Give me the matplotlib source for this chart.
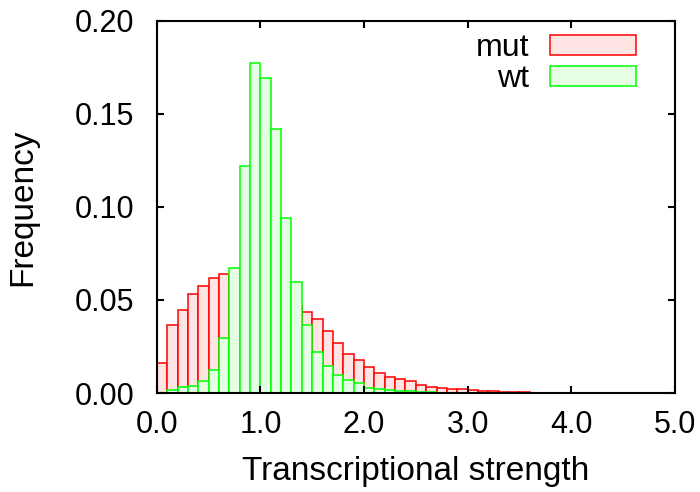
#!/usr/bin/env python3
# -*- coding=utf-8 -*-
import numpy as np
from matplotlib import pyplot as plt
plt.rcParams['font.family'] = ['Liberation Sans', 'DejaVu Sans']

# histogram, bin width 0.1 from 0.0 to 5.0
bin_edges = np.round(np.arange(0, 5.01, 0.1), 2)

mut = [0.0160, 0.0364, 0.0448, 0.0532, 0.0575, 0.0617, 0.0638, 0.0640, 0.0630, 0.0610,
       0.0580, 0.0540, 0.0500, 0.0470, 0.0437, 0.0398, 0.0331, 0.0271, 0.0210, 0.0176,
       0.0140, 0.0109, 0.0086, 0.0075, 0.0063, 0.0041, 0.0034, 0.0029, 0.0024, 0.0020,
       0.0016, 0.0011, 0.0009, 0.0007, 0.0005, 0.0004, 0.0003, 0.0002, 0.0002, 0.0001,
       0.0001, 0.0001, 0.0, 0.0, 0.0, 0.0, 0.0, 0.0, 0.0, 0.0]

wt = [0.0, 0.0018, 0.0032, 0.0039, 0.0063, 0.0125, 0.0294, 0.0670, 0.1220, 0.1773,
      0.1694, 0.1418, 0.0943, 0.0596, 0.0366, 0.0220, 0.0144, 0.0097, 0.0072, 0.0054,
      0.0029, 0.0023, 0.0018, 0.0013, 0.0009, 0.0006, 0.0004, 0.0003, 0.0002, 0.0001,
      0.0, 0.0, 0.0, 0.0, 0.0, 0.0, 0.0, 0.0, 0.0, 0.0,
      0.0, 0.0, 0.0, 0.0, 0.0, 0.0, 0.0, 0.0, 0.0, 0.0]

x_ticks = [0.0, 1.0, 2.0, 3.0, 4.0, 5.0]
y_ticks = [0.00, 0.05, 0.10, 0.15, 0.20]

fig = plt.figure(figsize=(7, 4.92), dpi=100)
ax = fig.add_axes([0.224, 0.201, 0.740, 0.757])

left = bin_edges[:-1]
width = 0.1
ax.bar(left, mut, width=width, align='edge', color='#ffe4e4',
       edgecolor='#ff0000', linewidth=1.1, label='mut')
ax.bar(left, wt, width=width, align='edge', color='#e4ffe4',
       edgecolor='#00ff00', linewidth=1.1, label='wt')

ax.set_xlim(0, 5)
ax.set_ylim(0, 0.2)
ax.set_xticks(x_ticks)
ax.set_xticklabels(['%.1f' % t for t in x_ticks])
ax.set_yticks(y_ticks)
ax.set_yticklabels(['%.2f' % t for t in y_ticks])

ax.tick_params(direction='in', length=5, width=1.5, top=True, right=True,
               labelsize=22)
ax.tick_params(axis='x', pad=12)
ax.tick_params(axis='y', pad=16)
for s in ax.spines.values():
    s.set_linewidth(1.5)

ax.set_xlabel('Transcriptional strength', fontsize=24, labelpad=12)
ax.set_ylabel('Frequency', fontsize=24, labelpad=26)

# legend: label left of the sample box, gnuplot style
ax.legend(loc='upper right', bbox_to_anchor=(0.925, 0.966), frameon=False,
          fontsize=23, markerfirst=False, handlelength=2.7, handleheight=0.55,
          labelspacing=0.03, handletextpad=0.65, borderaxespad=0, borderpad=0)

fig.savefig('out.png', dpi=100)
